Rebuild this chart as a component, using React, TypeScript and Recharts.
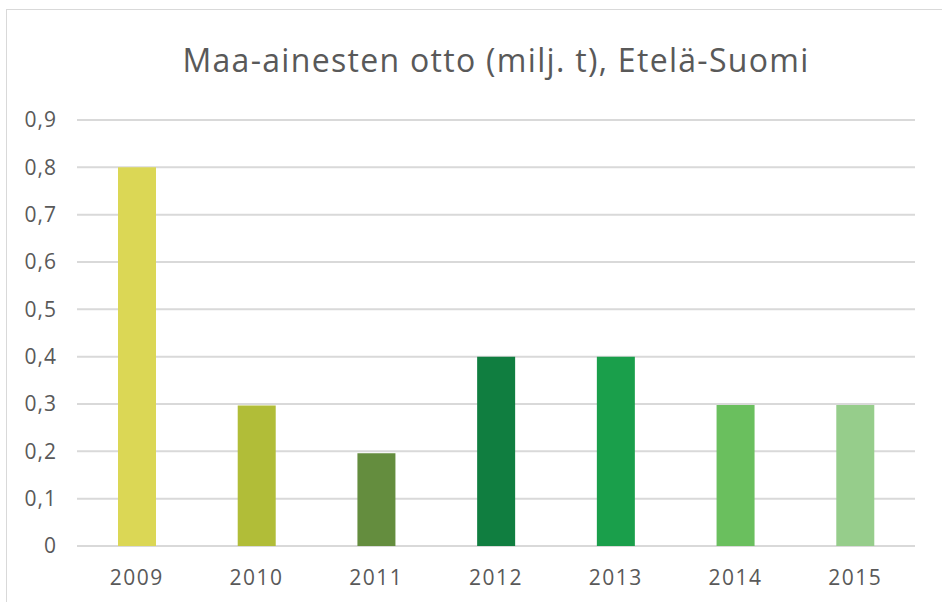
import { Bar, BarChart, CartesianGrid, Cell, XAxis, YAxis } from 'recharts'

const years = ['2009', '2010', '2011', '2012', '2013', '2014', '2015']
const values = [0.8, 0.297, 0.196, 0.4, 0.4, 0.298, 0.298]
const barColors = ['#dbd755', '#b1bd38', '#648d3e', '#107e40', '#1a9f4b', '#6abf5e', '#96cd8b']
const yTicks = [0, 0.1, 0.2, 0.3, 0.4, 0.5, 0.6, 0.7, 0.8, 0.9]

const data = years.map((year, i) => ({ year, value: values[i] }))

const font = '"Open Sans", sans-serif'
const textColor = '#595959'

const formatTick = (v: number) => (v === 0 ? '0' : v.toFixed(1).replace('.', ','))

export default function App() {
  return (
    <div
      style={{
        position: 'fixed',
        left: 0,
        top: 0,
        width: 942,
        height: 602,
        overflow: 'hidden',
        background: '#fff',
        fontFamily: font,
      }}
    >
      <div
        style={{
          position: 'absolute',
          left: 6,
          top: 9,
          width: 1000,
          height: 700,
          border: '1px solid #d9d9d9',
        }}
      />
      <div
        style={{
          position: 'absolute',
          left: 146,
          width: 700,
          top: 38,
          textAlign: 'center',
          fontSize: 32,
          letterSpacing: 1.3,
          color: textColor,
          lineHeight: '44px',
          whiteSpace: 'nowrap',
        }}
      >
        Maa-ainesten otto (milj. t), Etelä-Suomi
      </div>
      <div style={{ position: 'absolute', left: 0, top: 0 }}>
        <BarChart
          width={942}
          height={602}
          data={data}
          margin={{ top: 120, right: 27, bottom: 0, left: 0 }}
          barSize={38}
        >
          <CartesianGrid vertical={false} stroke="#d9d9d9" strokeWidth={2} />
          <XAxis
            dataKey="year"
            height={56}
            axisLine={false}
            tickLine={false}
            tickSize={0}
            tickMargin={24}
            tick={{ fill: textColor, fontSize: 21, fontFamily: font, letterSpacing: 1.5 }}
          />
          <YAxis
            width={77}
            domain={[0, 0.9]}
            ticks={yTicks}
            axisLine={false}
            tickLine={false}
            tickSize={0}
            tickMargin={20}
            tickFormatter={formatTick}
            tick={{ fill: textColor, fontSize: 21, fontFamily: font, letterSpacing: 1 }}
          />
          <Bar dataKey="value" isAnimationActive={false}>
            {data.map((d, i) => (
              <Cell key={d.year} fill={barColors[i]} />
            ))}
          </Bar>
        </BarChart>
      </div>
    </div>
  )
}
